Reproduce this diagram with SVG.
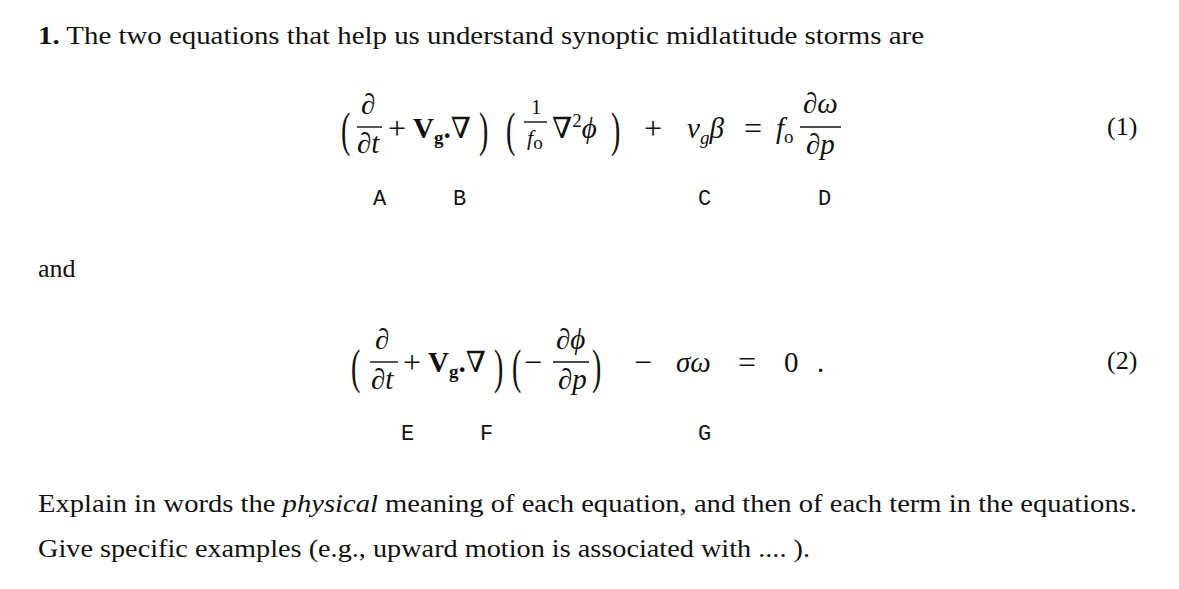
<svg xmlns="http://www.w3.org/2000/svg" width="1179" height="589" viewBox="0 0 1179 589">
<style>
text{font-family:"Liberation Serif","DejaVu Serif",serif;font-size:26px;fill:#111}
.m{font-size:29px}
.o{font-size:32px}
.i{font-style:italic}
.b{font-weight:bold}
.n{font-weight:normal}
.s{font-size:19px}
.l{font-family:"Liberation Mono","DejaVu Sans Mono",monospace;font-size:22px}
.p{font-size:28px}
line{stroke:#111;stroke-width:1.4}
</style>
<rect width="1179" height="589" fill="#fff"/>
<text x="38" y="44" textLength="886" lengthAdjust="spacingAndGlyphs"><tspan class="b">1.</tspan> The two equations that help us understand synoptic midlatitude storms are</text>
<g id="eq1">
<text transform="translate(341,146) scale(1,1.7)" class="p">(</text>
<text x="361" y="114" class="m">∂</text><line x1="357" y1="127" x2="382" y2="127"/><text x="357" y="153" class="m">∂<tspan class="i">t</tspan></text>
<text x="388" y="139" class="o">+</text>
<text x="413" y="138" class="m b">V<tspan class="s" dy="6">g</tspan><tspan dy="-6">.</tspan><tspan class="n">∇</tspan></text>
<text transform="translate(479,146) scale(1,1.7)" class="p">)</text>
<text transform="translate(506,146) scale(1,1.7)" class="p">(</text>
<text x="531" y="114" style="font-size:21px">1</text><line x1="524" y1="122" x2="547" y2="122"/><text x="527" y="145" class="i" style="font-size:22px">f<tspan class="s" style="font-style:normal" dy="4">o</tspan></text>
<text x="552" y="138" class="m">∇<tspan class="s" dy="-11">2</tspan><tspan class="i" dy="11">ϕ</tspan></text>
<text transform="translate(611,146) scale(1,1.7)" class="p">)</text>
<text x="644" y="139" class="o">+</text>
<text x="687" y="138" class="m i">v<tspan class="s" dy="6">g</tspan><tspan dy="-6">β</tspan></text>
<text x="744" y="139" class="o">=</text>
<text x="776" y="138" class="m i">f<tspan class="s" style="font-style:normal" dy="5">o</tspan></text>
<text x="803" y="113" class="m">∂<tspan class="i">ω</tspan></text><line x1="800" y1="127" x2="841" y2="127"/><text x="806" y="154" class="m">∂<tspan class="i">p</tspan></text>
<text x="1107" y="135">(1)</text>
</g>
<g id="labels1">
<text x="373" y="205" class="l">A</text><text x="453" y="205" class="l">B</text><text x="698" y="205" class="l">C</text><text x="818" y="205" class="l">D</text>
</g>
<text x="38" y="277">and</text>
<g id="eq2">
<text transform="translate(351,383) scale(1,1.7)" class="p">(</text>
<text x="375" y="349" class="m">∂</text><line x1="370" y1="362" x2="398" y2="362"/><text x="371" y="389" class="m">∂<tspan class="i">t</tspan></text>
<text x="403" y="373" class="o">+</text>
<text x="428" y="372" class="m b">V<tspan class="s" dy="6">g</tspan><tspan dy="-6">.</tspan><tspan class="n">∇</tspan></text>
<text transform="translate(494,383) scale(1,1.7)" class="p">)</text>
<text transform="translate(512,383) scale(1,1.7)" class="p">(</text>
<text x="524" y="373" class="o">−</text>
<text x="556" y="349" class="m">∂<tspan class="i">ϕ</tspan></text><line x1="553" y1="362" x2="589" y2="362"/><text x="558" y="389" class="m">∂<tspan class="i">p</tspan></text>
<text transform="translate(592,383) scale(1,1.7)" class="p">)</text>
<text x="634" y="373" class="o">−</text>
<text x="676" y="372" class="m i">σω</text>
<text x="738" y="373" class="o">=</text>
<text x="784" y="372" class="m">0</text>
<text x="817" y="372" class="m">.</text>
<text x="1107" y="369">(2)</text>
</g>
<g id="labels2">
<text x="401" y="440" class="l">E</text><text x="480" y="440" class="l">F</text><text x="698" y="440" class="l">G</text>
</g>
<text x="38" y="512" textLength="1099" lengthAdjust="spacingAndGlyphs">Explain in words the <tspan class="i">physical</tspan> meaning of each equation, and then of each term in the equations.</text>
<text x="38" y="557" textLength="772" lengthAdjust="spacingAndGlyphs">Give specific examples (e.g., upward motion is associated with .... ).</text>
</svg>
